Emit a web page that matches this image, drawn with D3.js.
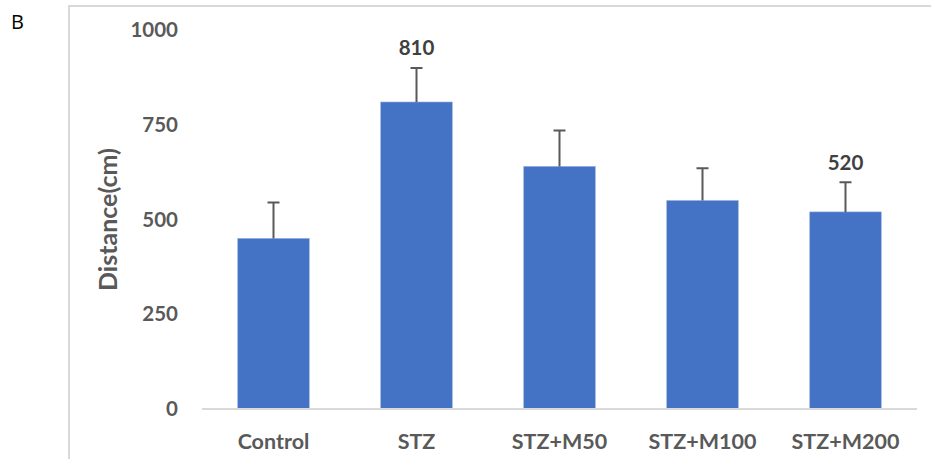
<!DOCTYPE html>
<html>
<head>
<meta charset="utf-8">
<script src="https://cdn.jsdelivr.net/npm/d3@7"></script>
<style>
	body { margin: 0; background: #fff; }
	text { font-family: Lato, 'Open Sans', sans-serif; }
</style>
</head>
<body>
<div id="graph"></div>
<script>
const groups = ['Control', 'STZ', 'STZ+M50', 'STZ+M100', 'STZ+M200'];
const means = [450, 810, 640, 550, 520];
const errors = [95, 90, 95, 85, 78];
const yTicks = [0, 250, 500, 750, 1000];
const shownLabels = ['STZ', 'STZ+M200'];

function drawGraph() {
	const width = 931,
		height = 459;
	const margin = { top: 30, right: 14, bottom: 50, left: 202 };

	const svg = d3.select('#graph').append('svg').attr('width', width).attr('height', height);

	// panel frame (clipped at right and bottom like the source)
	svg.append('path')
		.attr('d', `M69,${height + 2} V6 H${width + 2}`)
		.attr('fill', 'none')
		.attr('stroke', '#d9d9d9')
		.attr('stroke-width', 2);

	svg.append('text').attr('x', 11).attr('y', 29).style('font-size', '20px').style('font-family', "'Open Sans', sans-serif").attr('fill', '#000').text('B');

	const xScale = d3.scaleBand().domain(groups).range([margin.left, width - margin.right]).paddingInner(0.5).paddingOuter(0.25);
	const yScale = d3.scaleLinear().domain([0, 1000]).range([height - margin.bottom, margin.top]);

	// y tick labels
	svg.selectAll('.ytick')
		.data(yTicks)
		.enter()
		.append('text')
		.attr('class', 'ytick')
		.attr('x', 178)
		.attr('y', (d) => yScale(d))
		.attr('dy', '0.35em')
		.attr('text-anchor', 'end')
		.style('font-size', '20.5px')
		.style('font-weight', 'bold')
		.attr('fill', '#595959')
		.text((d) => d);

	svg.append('text')
		.attr('transform', `translate(108, ${yScale(500)}) rotate(-90)`)
		.attr('text-anchor', 'middle')
		.attr('dy', '0.35em')
		.style('font-size', '25px')
		.style('font-weight', 'bold')
		.attr('fill', '#595959')
		.text('Distance(cm)');

	const data = groups.map((g, i) => ({ g: g, v: means[i], e: errors[i] }));

	svg.selectAll('.bar')
		.data(data)
		.enter()
		.append('rect')
		.attr('class', 'bar')
		.attr('x', (d) => xScale(d.g))
		.attr('width', xScale.bandwidth())
		.attr('y', (d) => yScale(d.v))
		.attr('height', (d) => yScale(0) - yScale(d.v))
		.attr('fill', '#4472c4')
		.attr('stroke', '#8faadc')
		.attr('stroke-width', 0.6);

	// baseline
	svg.append('line')
		.attr('x1', margin.left)
		.attr('x2', width - margin.right)
		.attr('y1', yScale(0))
		.attr('y2', yScale(0))
		.attr('stroke', '#d9d9d9')
		.attr('stroke-width', 2);

	// error bars (upper only)
	const cx = (d) => xScale(d.g) + xScale.bandwidth() / 2;
	svg.selectAll('.err')
		.data(data)
		.enter()
		.append('path')
		.attr('class', 'err')
		.attr('d', (d) => `M${cx(d)},${yScale(d.v)} V${yScale(d.v + d.e)} M${cx(d) - 6},${yScale(d.v + d.e)} H${cx(d) + 6}`)
		.attr('fill', 'none')
		.attr('stroke', '#595959')
		.attr('stroke-width', 2);

	// value labels
	svg.selectAll('.vlabel')
		.data(data.filter((d) => shownLabels.includes(d.g)))
		.enter()
		.append('text')
		.attr('x', cx)
		.attr('y', (d) => yScale(d.v + d.e) - 20)
		.attr('dy', '0.35em')
		.attr('text-anchor', 'middle')
		.style('font-size', '20.5px')
		.style('font-weight', 'bold')
		.attr('fill', '#404040')
		.text((d) => d.v);

	// category labels
	svg.selectAll('.xlabel')
		.data(groups)
		.enter()
		.append('text')
		.attr('x', (d) => xScale(d) + xScale.bandwidth() / 2)
		.attr('y', 441)
		.attr('dy', '0.35em')
		.attr('text-anchor', 'middle')
		.style('font-size', '21.5px')
		.style('font-weight', 'bold')
		.attr('fill', '#595959')
		.text((d) => d);
}

drawGraph();
</script>
</body>
</html>
